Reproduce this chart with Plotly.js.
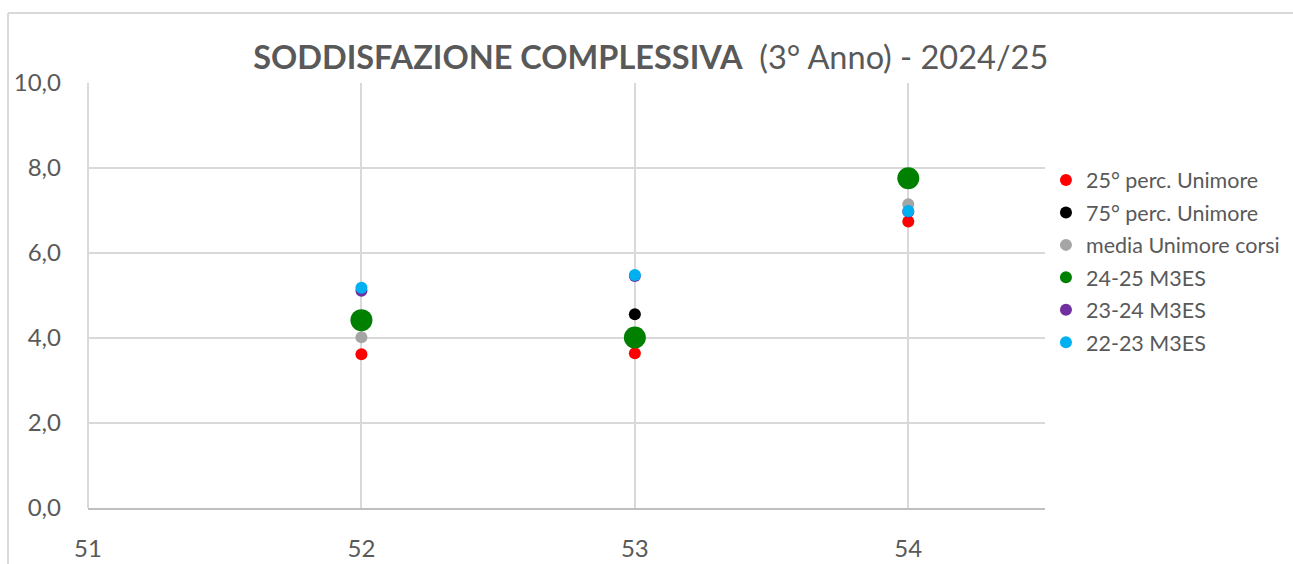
<!DOCTYPE html>
<html>
<head>
<meta charset="utf-8">
<script src="https://cdn.plot.ly/plotly-3.0.1.min.js"></script>
<style>
  html, body { margin: 0; padding: 0; background: #ffffff; }
  #chart { width: 1293px; height: 564px; }
</style>
</head>
<body>
<div id="chart"></div>
<script>
// Course codes on the x axis
const corsi = [52, 53, 54];

// Satisfaction scores per series
const perc25 = [3.62, 3.64, 6.74];
const perc75 = [4.50, 4.56, 7.70];
const mediaUnimore = [4.02, 3.98, 7.15];
const m3es2425 = [4.42, 4.01, 7.76];
const m3es2324 = [5.11, 5.46, 6.97];
const m3es2223 = [5.18, 5.48, 6.99];

const seriesNames = ['25° perc. Unimore', '75° perc. Unimore', 'media Unimore corsi',
                     '24-25 M3ES', '23-24 M3ES', '22-23 M3ES'];
const seriesValues = [perc25, perc75, mediaUnimore, m3es2425, m3es2324, m3es2223];
const seriesColors = ['#ff0000', '#000000', '#a5a5a5', '#008000', '#7030a0', '#00b0f0'];
const seriesSizes = [12, 12, 12, 22, 12, 12];

const xTicks = [51, 52, 53, 54];
const yTicks = [0, 2, 4, 6, 8, 10];

const fontFamily = 'Lato, "Open Sans", sans-serif';
const textColor = '#595959';

const traces = seriesNames.map((name, i) => ({
  type: 'scatter',
  mode: 'markers',
  name: name,
  legendgroup: 'g' + i,
  x: corsi,
  y: seriesValues[i],
  marker: { color: seriesColors[i], size: seriesSizes[i], line: { width: 0 } },
  hoverinfo: 'x+y+name'
}));

// Outer chart frame (left and top edges visible)
const frameLeft = -80 / 957;
const frameTop = 495 / 425;

const layout = {
  width: 1293,
  height: 564,
  margin: { l: 88, r: 248, t: 83, b: 56, autoexpand: false },
  paper_bgcolor: '#ffffff',
  plot_bgcolor: '#ffffff',
  separators: ',.',
  font: { family: fontFamily, color: textColor },
  title: {
    text: '<b>SODDISFAZIONE COMPLESSIVA</b>&nbsp;&nbsp;(3° Anno) - 2024/25',
    font: { family: fontFamily, size: 32.5, color: textColor },
    xref: 'paper',
    x: 0.588,
    xanchor: 'center',
    yref: 'container',
    y: 1 - 58 / 564,
    yanchor: 'middle'
  },
  xaxis: {
    range: [51, 54.5],
    tickvals: xTicks,
    ticktext: xTicks.map(String),
    showgrid: true,
    gridcolor: '#d9d9d9',
    gridwidth: 2,
    zeroline: false,
    showline: true,
    linecolor: '#bfbfbf',
    linewidth: 2,
    ticks: '',
    ticklabelstandoff: 18,
    tickfont: { family: fontFamily, size: 24, color: textColor },
    fixedrange: true
  },
  yaxis: {
    range: [0, 10],
    tickvals: yTicks,
    tickformat: '.1f',
    showgrid: true,
    gridcolor: '#d9d9d9',
    gridwidth: 2,
    zeroline: false,
    showline: false,
    ticks: '',
    ticklabelstandoff: 26,
    tickfont: { family: fontFamily, size: 24, color: textColor },
    fixedrange: true
  },
  legend: {
    x: 1.001,
    xref: 'paper',
    xanchor: 'left',
    y: 0.82,
    yanchor: 'top',
    font: { family: fontFamily, size: 21.5, color: textColor },
    itemsizing: 'constant',
    tracegroupgap: 1.5,
    bgcolor: 'rgba(0,0,0,0)'
  },
  shapes: [
    { type: 'line', xref: 'paper', yref: 'paper', x0: frameLeft, x1: frameLeft, y0: -0.3, y1: frameTop,
      line: { color: '#d9d9d9', width: 2 } },
    { type: 'line', xref: 'paper', yref: 'paper', x0: frameLeft, x1: 1.4, y0: frameTop, y1: frameTop,
      line: { color: '#d9d9d9', width: 2 } },
    { type: 'line', xref: 'paper', yref: 'paper', x0: 0, x1: 0, y0: 0, y1: 1,
      line: { color: '#d9d9d9', width: 2 }, layer: 'below' }
  ],
  showlegend: true,
  hovermode: 'closest'
};

Plotly.newPlot('chart', traces, layout, { displayModeBar: false, staticPlot: false });
</script>
</body>
</html>
